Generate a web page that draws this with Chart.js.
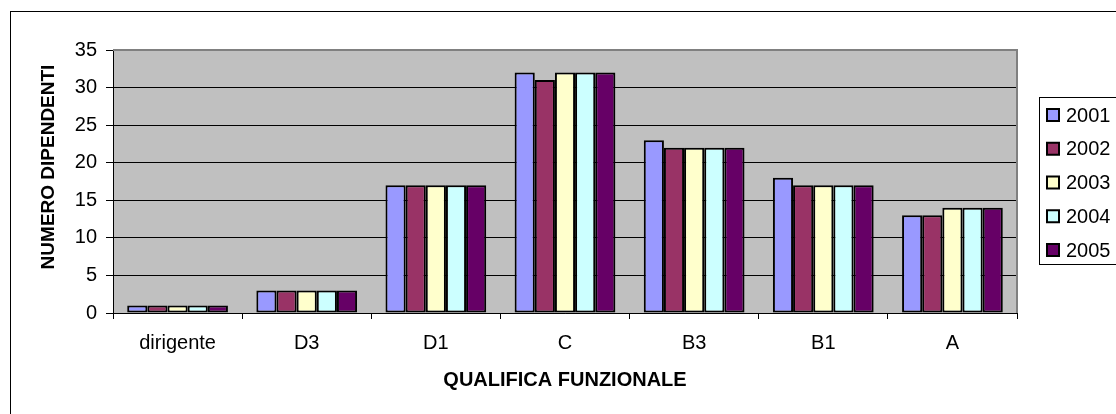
<!DOCTYPE html>
<html>
<head>
<meta charset="utf-8">
<script src="https://cdn.jsdelivr.net/npm/chart.js@4.4.0/dist/chart.umd.min.js"></script>
<style>
  html, body { margin: 0; padding: 0; background: #fff; }
  #wrap { width: 1116px; height: 414px; }
</style>
</head>
<body>
<div id="wrap"><canvas id="chart" width="1116" height="414"></canvas></div>
<script>
// ---- data ----
const categories = ['dirigente', 'D3', 'D1', 'C', 'B3', 'B1', 'A'];
const years = ['2001', '2002', '2003', '2004', '2005'];
const colors = ['#9999FF', '#993366', '#FFFFCC', '#CCFFFF', '#660066'];
const v2001 = [1, 3, 17, 32, 23, 18, 13];
const v2002 = [1, 3, 17, 31, 22, 17, 13];
const v2003 = [1, 3, 17, 32, 22, 17, 14];
const v2004 = [1, 3, 17, 32, 22, 17, 14];
const v2005 = [1, 3, 17, 32, 22, 17, 14];
const yTicks = [0, 5, 10, 15, 20, 25, 30, 35];
const xTitle = 'QUALIFICA FUNZIONALE';
const yTitle = 'NUMERO DIPENDENTI';

const series = [v2001, v2002, v2003, v2004, v2005];
const FONT = 'Arial, "Liberation Sans", sans-serif';

// plot background, border, axis titles, frame, legend
const decor = {
    id: 'decor',
    beforeDraw(chart) {
        const { ctx, chartArea: a } = chart;
        ctx.save();
        ctx.fillStyle = '#fff';
        ctx.fillRect(0, 0, chart.width, chart.height);
        ctx.strokeStyle = '#000';
        ctx.lineWidth = 1;
        ctx.strokeRect(10.5, 11.5, 1300, 600);
        ctx.fillStyle = '#C0C0C0';
        ctx.fillRect(a.left, a.top, a.right - a.left, a.bottom - a.top);
        ctx.restore();
    },
    afterDraw(chart) {
        const { ctx, chartArea: a } = chart;
        ctx.save();
        ctx.strokeStyle = '#808080';
        ctx.lineWidth = 2;
        ctx.beginPath();
        ctx.moveTo(a.left, a.top);
        ctx.lineTo(a.right, a.top);
        ctx.lineTo(a.right, a.bottom);
        ctx.stroke();

        // axis titles
        ctx.fillStyle = '#000';
        ctx.font = 'bold 20px ' + FONT;
        ctx.textAlign = 'center';
        ctx.textBaseline = 'middle';
        ctx.fillText(xTitle, (a.left + a.right) / 2, 380);
        ctx.translate(49, 167);
        ctx.rotate(-Math.PI / 2);
        ctx.font = 'bold 19px ' + FONT;
        ctx.fillText(yTitle, 0, 0);
        ctx.restore();

        // legend
        ctx.save();
        ctx.strokeStyle = '#000';
        ctx.lineWidth = 1;
        ctx.strokeRect(1039.5, 97.5, 120, 167);
        ctx.font = '20px ' + FONT;
        ctx.textAlign = 'left';
        ctx.textBaseline = 'middle';
        chart.data.datasets.forEach((ds, i) => {
            const cy = 115 + i * 33.75;
            ctx.fillStyle = ds.backgroundColor;
            ctx.fillRect(1047, cy - 6, 12, 12);
            ctx.lineWidth = 2;
            ctx.strokeRect(1047, cy - 6, 12, 12);
            ctx.fillStyle = '#000';
            ctx.fillText(ds.label, 1066, cy + 1);
        });
        ctx.restore();
    }
};

new Chart(document.getElementById('chart'), {
    type: 'bar',
    data: {
        labels: categories,
        datasets: years.map((y, i) => ({
            label: y,
            data: series[i],
            backgroundColor: colors[i],
            borderColor: '#000',
            borderWidth: 2,
            borderSkipped: false,
            categoryPercentage: 0.78,
            barPercentage: 1
        }))
    },
    options: {
        responsive: false,
        animation: false,
        layout: { padding: { left: 0, right: 99, top: 50, bottom: 0 } },
        plugins: { legend: { display: false }, tooltip: { enabled: false } },
        scales: {
            x: {
                offset: true,
                afterFit: s => { s.height = 101; },
                grid: { offset: true, drawOnChartArea: false, color: '#000', tickLength: 6, tickWidth: 1 },
                border: { color: '#000', width: 1 },
                ticks: { color: '#000', font: { family: FONT, size: 20 }, padding: 12, maxRotation: 0 }
            },
            y: {
                min: 0, max: 35,
                afterFit: s => { s.width = 113; },
                afterBuildTicks: s => { s.ticks = yTicks.map(v => ({ value: v })); },
                grid: { color: '#000', lineWidth: 1, tickLength: 7 },
                border: { color: '#000', width: 1 },
                ticks: { color: '#000', font: { family: FONT, size: 20 }, padding: 9 }
            }
        }
    },
    plugins: [decor]
});
</script>
</body>
</html>
